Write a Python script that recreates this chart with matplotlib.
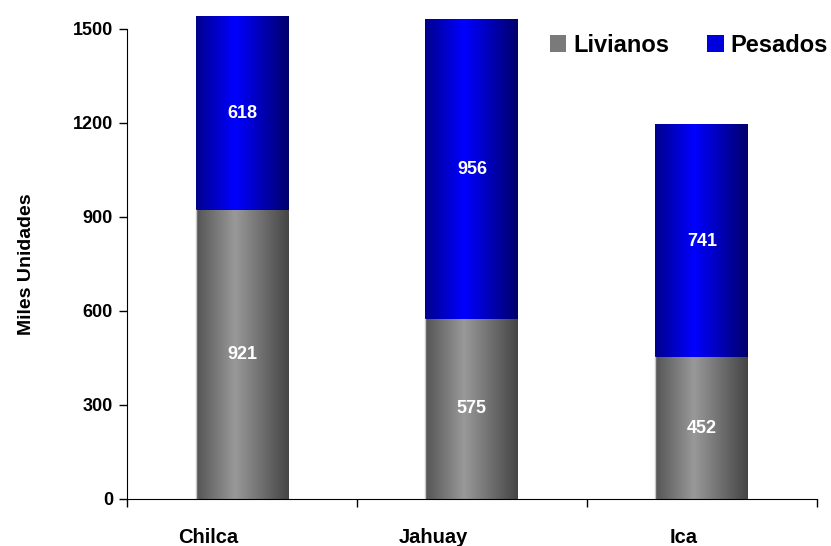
import numpy as np
import matplotlib
matplotlib.use('Agg')
import matplotlib.pyplot as plt
import matplotlib.transforms as mtransforms
from matplotlib.patches import Patch

# Datos
sitios = ['Chilca', 'Jahuay', 'Ica']
livianos = [921, 575, 452]
pesados = [618, 956, 741]
yticks = [0, 300, 600, 900, 1200, 1500]

plt.rcParams['font.family'] = ['Liberation Sans', 'DejaVu Sans']
plt.rcParams['font.weight'] = 'bold'

fig = plt.figure(figsize=(8.31, 5.46), dpi=100)
ax = fig.add_axes([0.1528, 0.0861, 0.8302, 0.8608])

x = np.arange(len(sitios))
ancho = 0.404


def degradado(oscuro_izq, claro, oscuro_der, n=200):
    # perfil horizontal tipo cilindro: oscuro en bordes, claro a ~40%
    t = np.linspace(0, 1, n)
    cols = np.zeros((1, n, 3))
    for c in range(3):
        cols[0, :, c] = np.interp(t, [0, 0.42, 1],
                                  [oscuro_izq[c], claro[c], oscuro_der[c]])
    return cols


grad_gris = degradado((0.33, 0.33, 0.33), (0.60, 0.60, 0.60), (0.27, 0.27, 0.27))
grad_azul = degradado((0.0, 0.0, 0.55), (0.0, 0.0, 1.0), (0.0, 0.0, 0.42))

b1 = ax.bar(x, livianos, ancho, color='none', edgecolor='none')
b2 = ax.bar(x, pesados, ancho, bottom=livianos, color='none', edgecolor='none')

for barras, grad in [(b1, grad_gris), (b2, grad_azul)]:
    for r in barras:
        x0, y0 = r.get_x(), r.get_y()
        w, h = r.get_width(), r.get_height()
        ax.imshow(grad, extent=[x0, x0 + w, y0, y0 + h], aspect='auto',
                  clip_on=False, zorder=2, interpolation='bilinear')

# borde claro a la izquierda de las barras grises
for r in b1:
    ax.plot([r.get_x(), r.get_x()], [0, r.get_height()], color='#c8c8c8',
            lw=1, zorder=2.5)

# etiquetas de valores
for i in range(len(sitios)):
    ax.text(x[i], livianos[i] / 2, str(livianos[i]), ha='center', va='center',
            color='white', fontsize=13, fontweight='bold', zorder=3)
    ax.text(x[i], livianos[i] + pesados[i] / 2, str(pesados[i]), ha='center',
            va='center', color='white', fontsize=13, fontweight='bold', zorder=3)

ax.set_xlim(-0.5, 2.5)
ax.set_ylim(0, 1500)
ax.set_yticks(yticks)
ax.tick_params(axis='y', labelsize=13, length=6, width=1, pad=4)

ax.set_xticks(np.arange(-0.5, 3, 1))
ax.set_xticklabels([])
ax.set_xticks(x, minor=True)
ax.set_xticklabels(sitios, minor=True)
ax.tick_params(axis='x', which='major', length=6, width=1)
ax.tick_params(axis='x', which='minor', length=0, labelsize=14.5, pad=21)

# en el original los nombres quedan alineados a la derecha del centro
desplaza = mtransforms.ScaledTranslation(-0.04, 0, fig.dpi_scale_trans)
for lbl in ax.get_xticklabels(minor=True):
    lbl.set_horizontalalignment('right')
    lbl.set_transform(lbl.get_transform() + desplaza)

for s in ['top', 'right']:
    ax.spines[s].set_visible(False)

ax.set_ylabel('Miles Unidades', fontsize=14, fontweight='bold', labelpad=27)

handles = [Patch(facecolor='#7a7a7a', edgecolor='none', label='Livianos'),
           Patch(facecolor='#0000dd', edgecolor='none', label='Pesados')]
ax.legend(handles=handles, loc='upper right', bbox_to_anchor=(1.047, 1.035),
          ncol=2, frameon=False, prop={'weight': 'bold', 'size': 17},
          handlelength=0.7, handleheight=0.7, handletextpad=0.3,
          columnspacing=1.6)

fig.savefig('out.png', dpi=100)
